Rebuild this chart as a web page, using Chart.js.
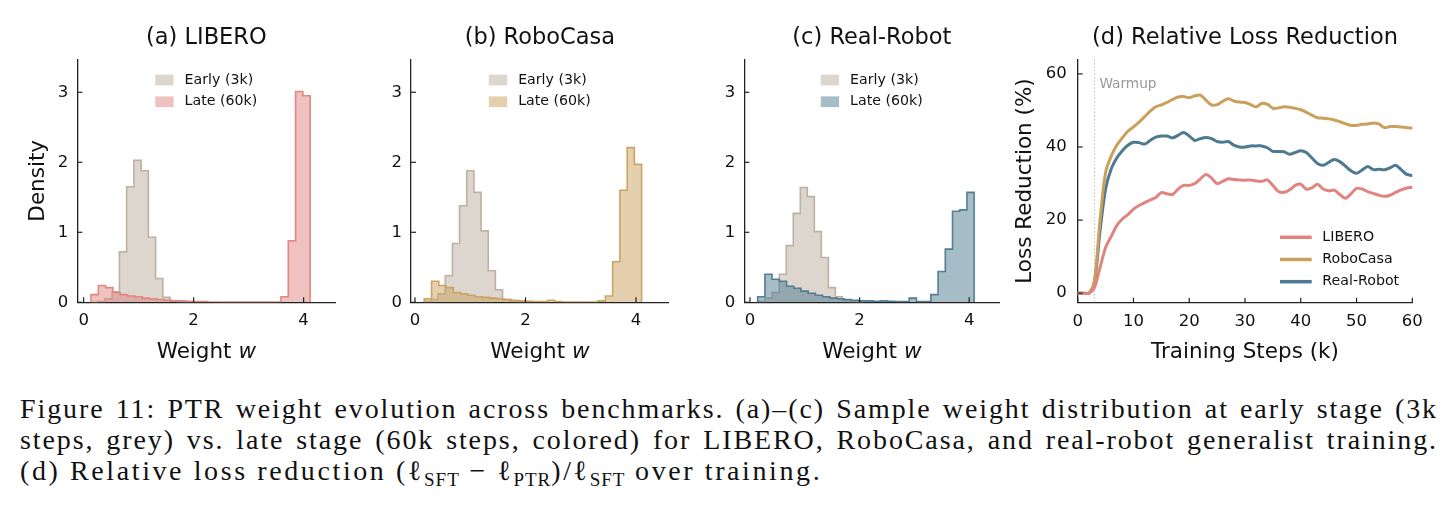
<!DOCTYPE html>
<html>
<head>
<meta charset="utf-8">
<script src="https://cdn.jsdelivr.net/npm/chart.js@4.4.1/dist/chart.umd.min.js"></script>
<style>
html, body { margin: 0; padding: 0; background: #fff; }
#page { position: relative; width: 1451px; height: 522px; overflow: hidden; background: #fff; }
canvas { position: absolute; top: 0; }
.cap { position: absolute; left: 20px; width: 1418px; font-family: 'Liberation Serif', serif;
       font-size: 28px; line-height: 31px; color: #111; white-space: nowrap; letter-spacing: 1.9px; }
.just { text-align: justify; text-align-last: justify; }
.last { letter-spacing: 2.6px; }
.sub { font-size: 0.68em; position: relative; top: 0.3em; letter-spacing: 1px; }
</style>
</head>
<body>
<div id="page">
  <canvas id="histA" width="360" height="380" style="left:0px"></canvas>
  <canvas id="histB" width="340" height="380" style="left:360px"></canvas>
  <canvas id="histC" width="300" height="380" style="left:700px"></canvas>
  <canvas id="lossD" width="451" height="380" style="left:1000px"></canvas>
  <div class="cap just" style="top:393px">Figure 11: PTR weight evolution across benchmarks. (a)–(c) Sample weight distribution at early stage (3k</div>
  <div class="cap just" style="top:424px">steps, grey) vs. late stage (60k steps, colored) for LIBERO, RoboCasa, and real-robot generalist training.</div>
  <div class="cap last" style="top:455px">(d) Relative loss reduction (ℓ<span class="sub">SFT</span> − ℓ<span class="sub">PTR</span>)/ℓ<span class="sub">SFT</span> over training.</div>
</div>
<script>
// ---- histogram data (density per bin, 30 bins of fixed width) ----
const liberoEarlyStart = 0.125, liberoEarlyWidth = 0.1315;
const liberoEarly = [0, 0.01, 0.05, 0.15, 0.72, 1.65, 2.03, 1.88, 0.93, 0.34, 0.07, 0.02, 0.01, 0.005];
const liberoLateStart = 0.135, liberoLateWidth = 0.1328;
const liberoLate = [0.11, 0.24, 0.21, 0.14, 0.11, 0.09, 0.08, 0.06, 0.05, 0.04, 0.03, 0.02, 0.02, 0.015, 0.01,
                    0.01, 0.005, 0.005, 0.003, 0.003, 0.003, 0.003, 0.003, 0.003, 0.003, 0.005, 0.08, 0.88, 3.01, 2.95];

const robocasaEarlyStart = 0.16, robocasaEarlyWidth = 0.1295;
const robocasaEarly = [0.01, 0.04, 0.12, 0.38, 0.84, 1.38, 1.88, 1.57, 1.02, 0.45, 0.18, 0.04, 0.02, 0.01, 0.01];
const robocasaLateStart = 0.169, robocasaLateWidth = 0.1311;
const robocasaLate = [0.05, 0.30, 0.24, 0.21, 0.14, 0.12, 0.10, 0.08, 0.07, 0.06, 0.05, 0.04, 0.03, 0.02, 0.015,
                      0.01, 0.01, 0.03, 0.01, 0.005, 0.005, 0.005, 0.005, 0.005, 0.02, 0.09, 0.58, 1.60, 2.21, 1.97];

const realEarlyStart = 0.15, realEarlyWidth = 0.128;
const realEarly = [0.01, 0.06, 0.14, 0.40, 0.81, 1.27, 1.64, 1.51, 1.01, 0.64, 0.21, 0.08, 0.03, 0.01, 0.005];
const realLateStart = 0.14, realLateWidth = 0.1317;
const realLate = [0.08, 0.40, 0.33, 0.30, 0.23, 0.20, 0.16, 0.13, 0.10, 0.08, 0.06, 0.05, 0.04, 0.03, 0.02,
                  0.02, 0.015, 0.02, 0.015, 0.01, 0.01, 0.06, 0.01, 0.01, 0.11, 0.44, 0.76, 1.30, 1.32, 1.57];

const histXTicks = [0, 2, 4];
const histYTicks = [0, 1, 2, 3];

// ---- loss reduction (%) vs training steps (k) ----
const steps = [0, 1, 2, 3, 4, 5, 6, 7, 8, 9, 10, 11, 12, 13, 14, 15, 16, 17, 18, 19, 20,
               21, 22, 23, 24, 25, 26, 27, 28, 29, 30, 31, 32, 33, 34, 35, 36, 37, 38, 39, 40,
               41, 42, 43, 44, 45, 46, 47, 48, 49, 50, 51, 52, 53, 54, 55, 56, 57, 58, 59, 60];
const liberoLoss = [0, 0, 0, 1.5, 7, 12.5, 15.5, 18.5, 20.3, 21.5, 23, 24, 24.8, 25.5, 26.2, 27.5, 27.2, 27, 28.5, 29.5, 29.5,
                    30, 31.3, 32.5, 31.5, 30, 30.6, 31.3, 31.1, 31, 30.9, 31, 30.7, 30.6, 31, 29.5, 27.8, 27.6, 28.3, 29.5, 29.8,
                    28.5, 28.8, 29.8, 28.5, 28, 28.2, 27, 26, 27.2, 28.7, 28.5, 27.8, 27.3, 26.8, 26.5, 26.8, 27.6, 28.3, 28.8, 29];
const robocasaLoss = [0, 0, 0, 3.5, 20, 33, 37.5, 40.5, 42.5, 44.3, 45.5, 46.8, 48.3, 49.8, 51, 51.5, 52.2, 53, 53.7, 53.8, 53.5,
                      54, 54.2, 52.8, 51.5, 51.6, 52.5, 53.2, 52.6, 52.3, 52.2, 51.6, 51, 51.9, 51.7, 50.6, 50.7, 51, 50.9, 50.6, 50.2,
                      49.5, 48.7, 48, 47.9, 47.7, 47.4, 46.9, 46.4, 45.9, 45.9, 46.2, 46.3, 46.6, 46.3, 45.3, 45.6, 45.6, 45.5, 45.3, 45.2];
const realLoss = [0, 0, 0, 3, 17, 28.5, 34, 37, 39, 40.5, 41.3, 41.2, 40.8, 41.8, 42.7, 43, 43, 42.5, 43.2, 44, 43,
                  41.8, 42.3, 42.6, 42.3, 41.5, 41.3, 41.5, 40.5, 40, 40, 40.3, 40.3, 40.3, 39.8, 38.8, 38.8, 38.7, 38, 38.5, 39,
                  38.5, 37, 35.5, 35, 35.8, 36.6, 36, 34.8, 33.5, 32.8, 33.7, 34.7, 33.8, 33.9, 33.8, 34.3, 35, 33.8, 32.5, 32.2];
const lossXTicks = [0, 10, 20, 30, 40, 50, 60];
const lossYTicks = [0, 20, 40, 60];
const warmupStep = 3;

const EARLY = [188, 174, 158];
const PINK = [224, 132, 128];
const GOLD = [201, 161, 93];
const BLUE = [77, 122, 144];
const rgba = (c, a) => `rgba(${c[0]},${c[1]},${c[2]},${a})`;
const FONT = '"DejaVu Sans", sans-serif';
const INK = '#111';

function histPoints(start, width, dens) {
  const pts = [{ x: start, y: 0 }];
  dens.forEach((d, i) => pts.push({ x: start + i * width, y: d }));
  pts.push({ x: start + dens.length * width, y: 0 });
  return pts;
}

const decor = {
  id: 'decor',
  beforeDatasetsDraw(chart, args, o) {
    if (o.vline === undefined) return;
    const { ctx, chartArea: a, scales: { x } } = chart;
    const px = x.getPixelForValue(o.vline);
    ctx.save();
    ctx.strokeStyle = '#bdbdbd';
    ctx.lineWidth = 1;
    ctx.setLineDash([1.5, 2]);
    ctx.beginPath(); ctx.moveTo(px, a.top); ctx.lineTo(px, a.bottom); ctx.stroke();
    ctx.setLineDash([]);
    ctx.fillStyle = '#999';
    ctx.font = '13.7px ' + FONT;
    ctx.textAlign = 'left'; ctx.textBaseline = 'middle';
    ctx.fillText('Warmup', px + 5, chart.scales.y.getPixelForValue(57));
    ctx.restore();
  },
  afterDraw(chart, args, o) {
    const { ctx, chartArea: a, scales: { x, y } } = chart;
    ctx.save();
    // inward tick marks
    ctx.strokeStyle = '#222'; ctx.lineWidth = 1.2;
    x.ticks.forEach(t => {
      const px = x.getPixelForValue(t.value);
      ctx.beginPath(); ctx.moveTo(px, a.bottom); ctx.lineTo(px, a.bottom - 5); ctx.stroke();
    });
    y.ticks.forEach(t => {
      const py = y.getPixelForValue(t.value);
      ctx.beginPath(); ctx.moveTo(a.left, py); ctx.lineTo(a.left + 5, py); ctx.stroke();
    });
    const cx = (a.left + a.right) / 2;
    ctx.fillStyle = INK;
    // title
    ctx.font = '22.5px ' + FONT;
    ctx.textAlign = 'center'; ctx.textBaseline = 'alphabetic';
    ctx.fillText(o.title, cx, 44);
    // x label (parts may be italic)
    let total = 0;
    const parts = o.xlabel.map(p => {
      const f = (p.italic ? 'italic ' : '') + '21.5px ' + FONT;
      ctx.font = f;
      const w = ctx.measureText(p.text).width;
      total += w;
      return { f, w, text: p.text };
    });
    let xx = cx - total / 2;
    ctx.textAlign = 'left';
    parts.forEach(p => { ctx.font = p.f; ctx.fillText(p.text, xx, 358); xx += p.w; });
    // y label
    if (o.ylabel) {
      ctx.save();
      ctx.font = '21.5px ' + FONT;
      ctx.translate(a.left - o.ylabelGap, (a.top + a.bottom) / 2);
      ctx.rotate(-Math.PI / 2);
      ctx.textAlign = 'center';
      ctx.fillText(o.ylabel, 0, 0);
      ctx.restore();
    }
    // legend
    ctx.font = '14.2px ' + FONT;
    ctx.textBaseline = 'middle'; ctx.textAlign = 'left';
    if (o.legendType === 'patch') {
      const tw = Math.max(...o.legend.map(l => ctx.measureText(l.label).width));
      const left = cx - (18.3 + 11 + tw) / 2;
      o.legend.forEach((l, i) => {
        const ry = a.top + 20.7 + i * 21.7;
        ctx.fillStyle = l.fill;
        ctx.fillRect(left, ry - 5.3, 18.3, 10.7);
        ctx.fillStyle = INK;
        ctx.fillText(l.label, left + 29.3, ry);
      });
    } else if (o.legendType === 'line') {
      const left = a.right - 132.3;
      o.legend.forEach((l, i) => {
        const ry = a.bottom - 65.4 + i * 22.2;
        ctx.strokeStyle = l.color; ctx.lineWidth = 3.5;
        ctx.beginPath(); ctx.moveTo(left, ry); ctx.lineTo(left + 31.7, ry); ctx.stroke();
        ctx.fillStyle = INK;
        ctx.fillText(l.label, left + 42.3, ry);
      });
    }
    ctx.restore();
  }
};

function axis(min, max, ticks, fit, pad) {
  return {
    type: 'linear', min, max,
    afterBuildTicks: s => { s.ticks = ticks.map(v => ({ value: v })); },
    afterFit: fit,
    grid: { display: false, drawTicks: false },
    border: { display: true, color: '#222', width: 1.3 },
    ticks: { color: INK, font: { family: FONT, size: 16.5 }, padding: pad, maxRotation: 0 }
  };
}

function makeChart(id, area, xr, yr, xt, yt, datasets, deco, xpad, ypad) {
  const cv = document.getElementById(id);
  const W = cv.width, H = cv.height;
  return new Chart(cv, {
    type: 'line',
    data: { datasets },
    plugins: [decor],
    options: {
      responsive: false, animation: false, events: [],
      layout: { padding: { left: 0, top: area.top, right: W - area.right, bottom: 0 } },
      plugins: { legend: { display: false }, tooltip: { enabled: false }, decor: deco },
      scales: {
        x: axis(xr[0], xr[1], xt, s => { s.height = H - area.bottom; }, xpad),
        y: axis(yr[0], yr[1], yt, s => { s.width = area.left; }, ypad)
      }
    }
  });
}

function histSet(pts, col, order) {
  return {
    data: pts, stepped: 'before', fill: 'origin', order,
    backgroundColor: rgba(col, 0.5), borderColor: rgba(col, 0.95),
    borderWidth: 1.6, pointRadius: 0, tension: 0
  };
}

function histPanel(id, area, xr, title, earlyPts, latePts, col, ylabel) {
  makeChart(id, area, xr, [0, 3.471], histXTicks, histYTicks, [
    histSet(earlyPts, EARLY, 1),
    histSet(latePts, col, 0)
  ], {
    title, xlabel: [{ text: 'Weight ' }, { text: 'w', italic: true }],
    ylabel, ylabelGap: 33.3, legendType: 'patch',
    legend: [{ label: 'Early (3k)', fill: rgba(EARLY, 0.5) }, { label: 'Late (60k)', fill: rgba(col, 0.5) }]
  }, 9, 9);
}

histPanel('histA', { left: 77.3, right: 335.3, top: 59.3, bottom: 302.3 }, [-0.115, 4.576], '(a) LIBERO',
  histPoints(liberoEarlyStart, liberoEarlyWidth, liberoEarly),
  histPoints(liberoLateStart, liberoLateWidth, liberoLate), PINK, 'Density');
histPanel('histB', { left: 51, right: 308.7, top: 59.3, bottom: 302.3 }, [-0.072, 4.592], '(b) RoboCasa',
  histPoints(robocasaEarlyStart, robocasaEarlyWidth, robocasaEarly),
  histPoints(robocasaLateStart, robocasaLateWidth, robocasaLate), GOLD, null);
histPanel('histC', { left: 44.3, right: 299.3, top: 59.3, bottom: 302.3 }, [-0.104, 4.55], '(c) Real-Robot',
  histPoints(realEarlyStart, realEarlyWidth, realEarly),
  histPoints(realLateStart, realLateWidth, realLate), BLUE, null);

function lineSet(label, vals, col) {
  return {
    label, data: steps.map((s, i) => ({ x: s, y: vals[i] })),
    borderColor: rgba(col, 1), borderWidth: 3, pointRadius: 0, tension: 0.3, fill: false,
    borderCapStyle: 'round', borderJoinStyle: 'round'
  };
}

makeChart('lossD', { left: 77.7, right: 412.3, top: 59.3, bottom: 302.7 }, [0, 60], [-2.6, 64], lossXTicks, lossYTicks, [
  lineSet('LIBERO', liberoLoss, PINK),
  lineSet('RoboCasa', robocasaLoss, GOLD),
  lineSet('Real-Robot', realLoss, BLUE)
], {
  title: '(d) Relative Loss Reduction',
  xlabel: [{ text: 'Training Steps (k)' }],
  ylabel: 'Loss Reduction (%)', ylabelGap: 46.7, vline: warmupStep,
  legendType: 'line',
  legend: [{ label: 'LIBERO', color: rgba(PINK, 1) }, { label: 'RoboCasa', color: rgba(GOLD, 1) }, { label: 'Real-Robot', color: rgba(BLUE, 1) }]
}, 9, 11);
</script>
</body>
</html>
